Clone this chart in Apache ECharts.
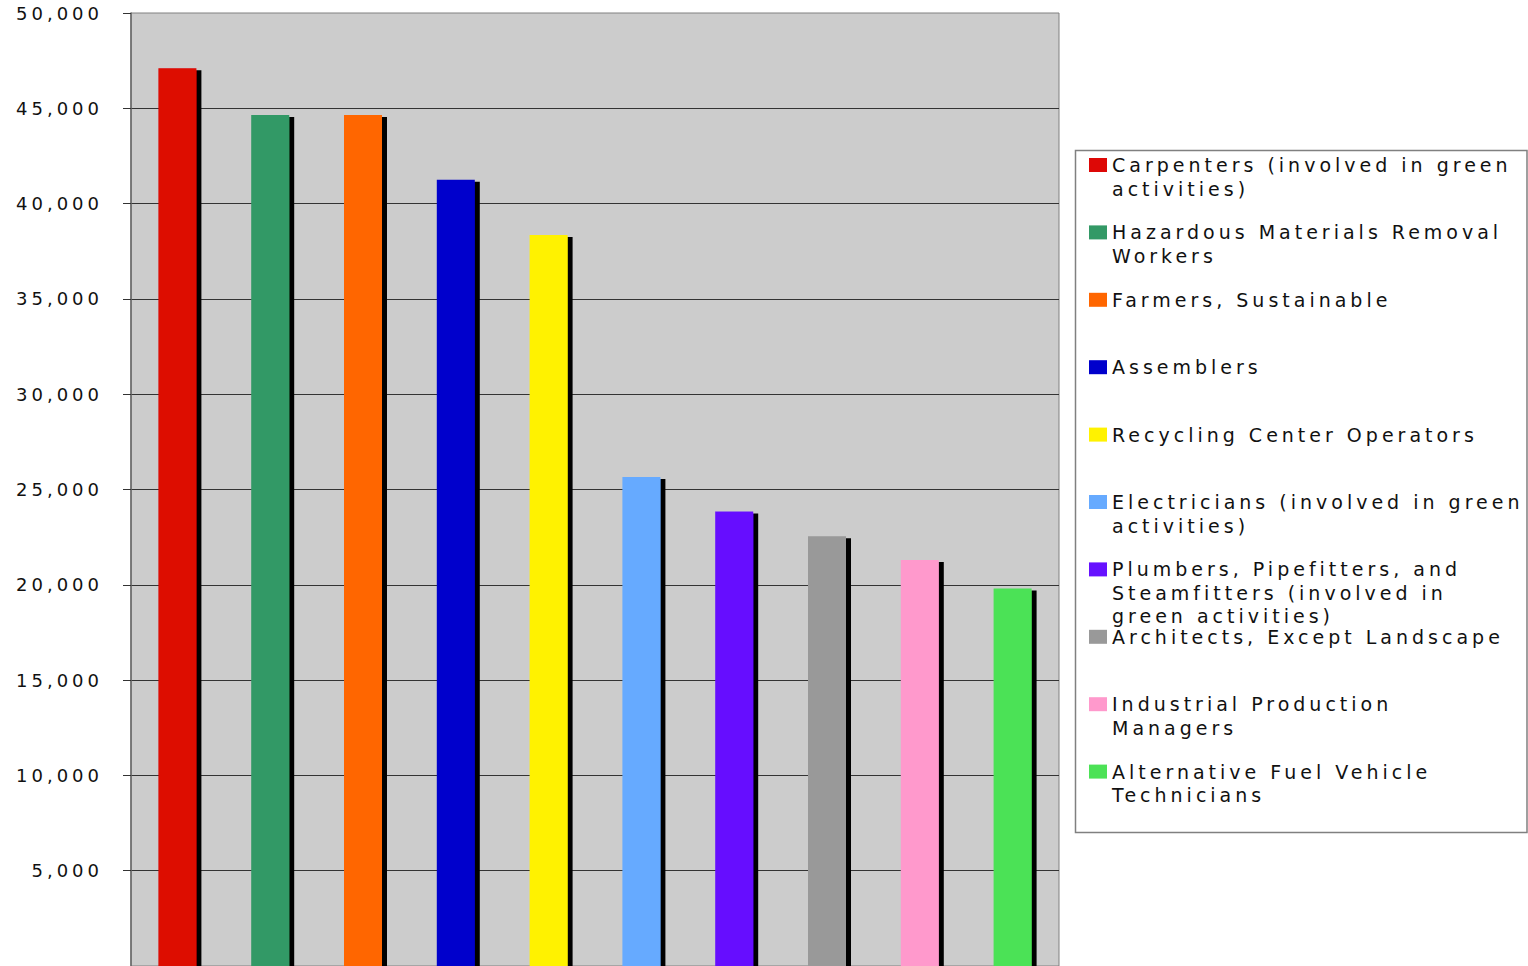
<!DOCTYPE html>
<html>
<head>
<meta charset="utf-8">
<script src="https://cdn.jsdelivr.net/npm/echarts@6/dist/echarts.min.js"></script>
<style>
  html, body { margin: 0; padding: 0; background: #ffffff; }
  #chart { width: 1528px; height: 966px; }
  #chart text { letter-spacing: 4px; }
</style>
</head>
<body>
<div id="chart"></div>
<script>
// ---- data ----
const occupations = [
  'Carpenters (involved in green activities)',
  'Hazardous Materials Removal Workers',
  'Farmers, Sustainable',
  'Assemblers',
  'Recycling Center Operators',
  'Electricians (involved in green activities)',
  'Plumbers, Pipefitters, and Steamfitters (involved in green activities)',
  'Architects, Except Landscape',
  'Industrial Production Managers',
  'Alternative Fuel Vehicle Technicians'
];
const legendLabels = [
  'Carpenters (involved in green\nactivities)',
  'Hazardous Materials Removal\nWorkers',
  'Farmers, Sustainable',
  'Assemblers',
  'Recycling Center Operators',
  'Electricians (involved in green\nactivities)',
  'Plumbers, Pipefitters, and\nSteamfitters (involved in\ngreen activities)',
  'Architects, Except Landscape',
  'Industrial Production\nManagers',
  'Alternative Fuel Vehicle\nTechnicians'
];
const jobs = [47100, 44650, 44650, 41250, 38350, 25650, 23850, 22550, 21300, 19800];
const barColors = ['#DD0806', '#339966', '#FF6600', '#0000CC', '#FFF200',
                   '#66AAFF', '#6611FF', '#999999', '#FF99CC', '#4CE256'];
const yTicks = { min: 0, max: 50000, interval: 5000 };

// ---- chart ----
const chart = echarts.init(document.getElementById('chart'), null, { renderer: 'svg' });

function fmt(v) {
  if (v === 0) return '';
  return String(v).replace(/\B(?=(\d{3})+(?!\d))/g, ',');
}

const series = occupations.map((name, i) => ({
  name: name,
  type: 'bar',
  stack: 'all',
  barWidth: 38,
  data: jobs.map((v, j) => (j === i ? v : '-')),
  itemStyle: {
    color: barColors[i],
    shadowColor: '#000000',
    shadowBlur: 0,
    shadowOffsetX: 5,
    shadowOffsetY: 2
  },
  emphasis: { disabled: true },
  animation: false
}));

const lh = 23.5, iconW = 18, iconH = 14;
const legends = legendLabels.map((label, i) => {
  const n = label.split('\n').length;
  // pad with leading blank lines so the first text line sits level with the icon
  const shown = '\n'.repeat(n - 1) + label;
  const iconTop = 158 + i * 67.4;
  const top = iconTop - ((2 * n - 1) * lh / 2 - iconH / 2);
  return {
    data: [occupations[i]],
    left: 1089,
    top: top,
    padding: 0,
    orient: 'vertical',
    icon: 'rect',
    itemWidth: iconW,
    itemHeight: iconH,
    selectedMode: false,
    formatter: () => shown,
    itemStyle: { shadowBlur: 0, shadowOffsetX: 0, shadowOffsetY: 0, shadowColor: 'rgba(0,0,0,0)', borderWidth: 0 },
    textStyle: {
      fontFamily: 'DejaVu Sans',
      fontSize: 19,
      color: '#111111',
      lineHeight: lh,
      backgroundColor: 'rgba(0,0,0,0)'
    }
  };
});

chart.setOption({
  animation: false,
  backgroundColor: '#ffffff',
  grid: {
    left: 131, right: 469, top: 13, bottom: 0,
    show: true,
    backgroundColor: '#cccccc',
    borderColor: '#808080',
    borderWidth: 1,
    containLabel: false
  },
  graphic: [{
    type: 'rect',
    shape: { x: 1075.5, y: 150.5, width: 451.5, height: 682 },
    style: { fill: '#ffffff', stroke: '#808080', lineWidth: 1.5 },
    z: -1
  }],
  legend: legends,
  xAxis: {
    type: 'category',
    data: occupations,
    axisLine: { show: false },
    axisTick: { show: false },
    axisLabel: { show: false },
    splitLine: { show: false }
  },
  yAxis: {
    type: 'value',
    min: yTicks.min,
    max: yTicks.max,
    interval: yTicks.interval,
    axisLine: { show: true, lineStyle: { color: '#666666', width: 1.5 } },
    axisTick: { show: true, length: 8, lineStyle: { color: '#333333' } },
    axisLabel: {
      formatter: fmt,
      margin: 28,
      fontFamily: 'DejaVu Sans',
      fontSize: 18,
      color: '#111111'
    },
    splitLine: {
      show: true,
      showMinLine: false,
      showMaxLine: false,
      lineStyle: { color: '#333333', width: 1 }
    }
  },
  series: series
});
</script>
</body>
</html>
